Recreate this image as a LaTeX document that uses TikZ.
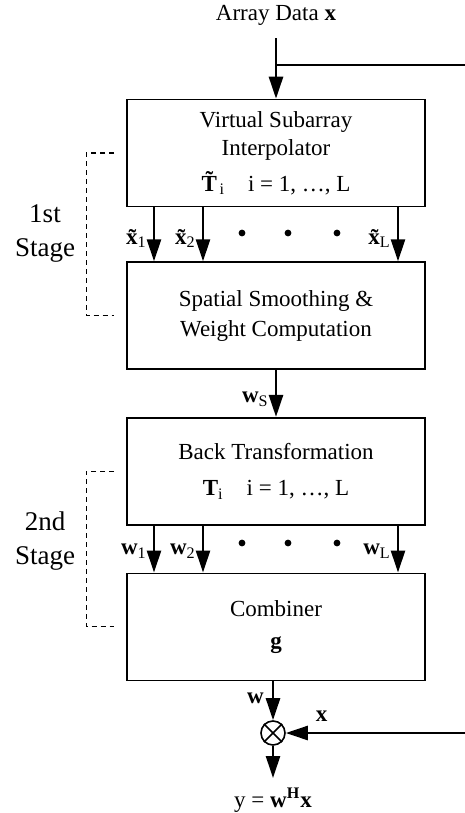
\documentclass[tikz,border=0pt]{standalone}
\usepackage{fontspec}
\setmainfont{Liberation Serif}
\usetikzlibrary{arrows.meta, positioning}

\newcommand{\sbs}[1]{\textsubscript{\mdseries #1}}

\begin{document}
\begin{tikzpicture}[x=0.5pt, y=-0.5pt,
    font=\fontsize{11.5}{15}\selectfont,
    box/.style={draw, line width=0.8pt, minimum width=149pt, minimum height=53.5pt, inner sep=0pt, align=center},
    arrow/.style={draw, line width=1.3pt, -{Triangle[width=7pt, length=11pt]}},
    feed/.style={draw, line width=1.3pt},
    bracket/.style={draw, line width=0.6pt, dash pattern=on 2.5pt off 2pt},
    stage/.style={align=center, font=\fontsize{13.5}{17}\selectfont},
    lbl/.style={font=\fontsize{11.5}{13}\selectfont\bfseries, inner sep=1pt},
    dot/.style={circle, fill, inner sep=0pt, minimum size=3.4pt}
]
    \useasboundingbox (0,0) rectangle (465,813);

    % Blocks
    \node[box] (interp) at (276,153) {Virtual Subarray\\[-1pt]Interpolator\\[3pt] \textbf{T^^^^0303}\kern-2.5pt\sbs{i}\quad i = 1, \ldots, L};
    \node[box, below=27pt of interp] (smooth) {Spatial Smoothing \&\\Weight Computation};
    \node[box, below=23.5pt of smooth] (back) {Back Transformation\\[3pt] \textbf{T}\sbs{i}\quad i = 1, \ldots, L};
    \node[box, below=23.5pt of back] (comb) {Combiner\\[1pt] \textbf{g}};

    % Input
    \node (data) at (276,15) {Array Data \textbf{x}};
    \coordinate (tap) at (interp.north |- 0,65);
    \coordinate (tapend) at (465,65);
    \draw[arrow, shorten <=3pt] (data.south) -- (interp.north);
    \draw[feed] (tap) -- (tapend);

    % 1st stage links
    \foreach \dx/\nm in {-61pt/1, -36.5pt/2, 61pt/L} {
        \draw[arrow] ([xshift=\dx]interp.south) -- ([xshift=\dx]smooth.north)
            node[pos=0.58, left=2pt, lbl] (xt\nm) {x^^^^0303\sbs{\nm}};
    }
    \foreach \x [count=\i] in {242,288,337}
        \node[dot] (da\i) at (\x,233) {};

    \draw[arrow] (smooth) -- (back) node[pos=0.62, left=2pt, lbl] (ws) {w\sbs{S}};

    % 2nd stage links
    \foreach \dx/\nm in {-61pt/1, -36.5pt/2, 61pt/L} {
        \draw[arrow] ([xshift=\dx]back.south) -- ([xshift=\dx]comb.north)
            node[pos=0.55, left=2pt, lbl] (wt\nm) {w\sbs{\nm}};
    }
    \foreach \x [count=\i] in {242,288,337}
        \node[dot] (db\i) at (\x,543) {};

    % Stage brackets
    \draw[bracket] ([xshift=-6pt]interp.west) -- ++(-14pt,0) |- ([xshift=-6pt]smooth.west);
    \draw[bracket] ([xshift=-6pt]back.west) -- ++(-14pt,0) |- ([xshift=-6pt]comb.west);
    \node[stage] (st1) at (45,233) {1st\\Stage};
    \node[stage] (st2) at (45,541) {2nd\\Stage};

    % Output
    \node[draw, circle, minimum size=12pt, inner sep=0pt, line width=0.8pt] (mix) at (273,733) {};
    \draw[line width=0.8pt] (mix.north west) -- (mix.south east) (mix.north east) -- (mix.south west);
    \draw[arrow] (comb.south -| mix) -- (mix) node[pos=0.45, left=3pt, lbl] (wl) {w};
    \coordinate (xin) at (465,733);
    \draw[arrow] (xin) -- (mix) node[pos=0.8, above=4pt, lbl] (xl) {x};
    \coordinate (yout) at (273,778);
    \draw[arrow] (mix) -- (yout);
    \node (yl) at (273,800) {y = \textbf{w}\textsuperscript{\textbf{H}}\textbf{x}};
\end{tikzpicture}
\end{document}
